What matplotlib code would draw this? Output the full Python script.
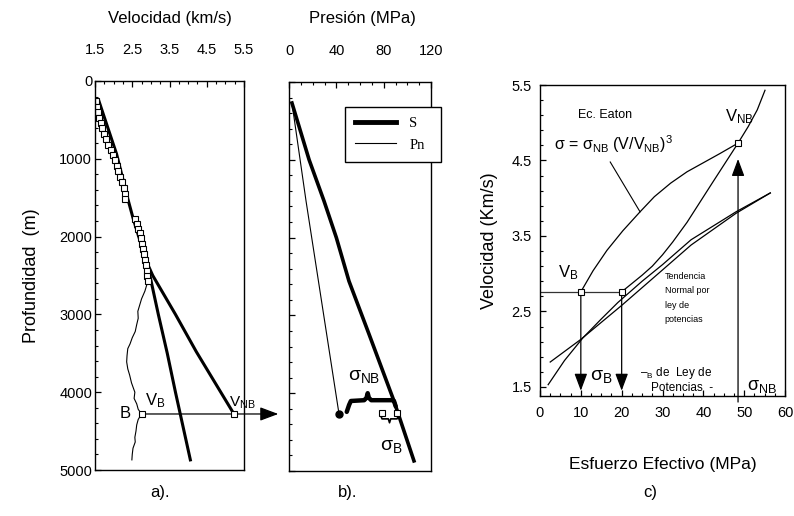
import matplotlib
matplotlib.use('Agg')
import matplotlib.pyplot as plt
from matplotlib.ticker import FixedLocator, AutoMinorLocator, NullFormatter
from matplotlib.lines import Line2D

plt.rcParams['font.family'] = ['Liberation Sans', 'DejaVu Sans']
plt.rcParams['mathtext.fontset'] = 'custom'
plt.rcParams['mathtext.rm'] = 'Liberation Sans'
plt.rcParams['mathtext.it'] = 'Liberation Sans'

# ---------------- Panel a data (depth m, velocity km/s) ----------------
vel_depth = [260, 330, 400, 470, 540, 610, 680, 750, 820, 890, 950, 1020, 1090,
             1160, 1230, 1300, 1370, 1450, 1520, 1780, 1840, 1900, 1960, 2020,
             2090, 2160, 2230, 2300, 2370, 2440, 2510, 2570]
vel_data = [1.52, 1.55, 1.58, 1.62, 1.66, 1.70, 1.75, 1.80, 1.86, 1.93, 1.98, 2.03,
            2.08, 2.12, 2.17, 2.22, 2.27, 2.31, 2.30, 2.58, 2.62, 2.66, 2.70, 2.74,
            2.76, 2.78, 2.81, 2.84, 2.87, 2.89, 2.90, 2.91]
trend_depth = [250, 940, 1460, 1760, 2320, 2500, 3000, 3480, 4280]
trend_vel = [1.60, 2.08, 2.35, 2.52, 2.88, 3.05, 3.66, 4.22, 5.23]
trend2_depth = [2360, 3000, 3500, 4000, 4870]
trend2_vel = [2.91, 3.20, 3.44, 3.66, 4.06]
log_depth = [2550, 2620, 2700, 2800, 2880, 2960, 3050, 3130, 3220, 3300, 3380, 3440,
             3530, 3610, 3700, 3780, 3880, 4000, 4080, 4150, 4220, 4280, 4350, 4420,
             4500, 4580, 4640, 4720, 4800, 4870]
log_vel = [2.92, 2.89, 2.84, 2.75, 2.70, 2.65, 2.66, 2.62, 2.58, 2.50, 2.44, 2.38,
           2.36, 2.35, 2.38, 2.43, 2.48, 2.57, 2.55, 2.62, 2.66, 2.75, 2.66, 2.62,
           2.60, 2.57, 2.58, 2.52, 2.50, 2.49]
depth_B = 4280
v_B_a = 2.75
v_NB_a = 5.23

# ---------------- Panel b data (depth m, pressure MPa) ----------------
S_depth = [270, 1000, 1530, 2000, 2560, 3240, 4100, 4870]
S_press = [2.5, 17.0, 29.6, 40.0, 50.7, 67.6, 88.7, 105.6]
Pn_depth = [270, 1530, 4270]
Pn_press = [2.5, 14.4, 42.3]
sq_press = [78.6, 91.3]
sq_depth = [4254, 4254]

# ---------------- Panel c data (effective stress MPa, velocity km/s) ----------------
eaton_sigma = [10, 13, 16.4, 20.3, 24.5, 28, 32, 36, 40, 44, 48.5]
eaton_vel = [2.76, 3.04, 3.31, 3.57, 3.82, 4.02, 4.20, 4.35, 4.47, 4.59, 4.73]
steep_sigma = [20, 25, 27.5, 30, 32.5, 36, 42.4, 48.5, 51, 53.2, 55.1]
steep_vel = [2.76, 2.98, 3.10, 3.25, 3.42, 3.68, 4.22, 4.73, 4.95, 5.17, 5.43]
norm1_sigma = [2.5, 10, 20, 30, 37, 48, 56.4]
norm1_vel = [1.83, 2.13, 2.58, 3.05, 3.38, 3.80, 4.07]
norm2_sigma = [2, 6, 10.5, 15, 19.1, 25, 30, 37, 48, 56.4]
norm2_vel = [1.53, 1.85, 2.15, 2.40, 2.62, 2.90, 3.12, 3.45, 3.82, 4.07]
sigma_B = [10, 20]
V_B = 2.76
sigma_NB = 48.5
V_NB = 4.73

W, H = 794, 516
fig = plt.figure(figsize=(W / 100, H / 100), dpi=100)


def box(l, t, r, b):
    return [l / W, 1 - b / H, (r - l) / W, (b - t) / H]


axa = fig.add_axes(box(95, 81, 244, 470))
axb = fig.add_axes(box(289, 82, 431, 471))
axc = fig.add_axes(box(540, 85, 785, 396))

for ax in (axa, axb, axc):
    ax.tick_params(which='both', direction='in', labelsize=10.5)
    ax.tick_params(which='major', length=4, width=0.9)
    ax.tick_params(which='minor', length=2.5, width=0.8)
    for s in ax.spines.values():
        s.set_linewidth(1.0)

arrow_style = '-|>,head_length=0.75,head_width=0.28'

# ---------------- Panel a ----------------
axa.plot(trend_vel, trend_depth, color='black', lw=2.2)
axa.plot(trend2_vel, trend2_depth, color='black', lw=2.2)
axa.plot(log_vel, log_depth, color='black', lw=0.8)
axa.plot(vel_data, vel_depth, ls='none', marker='s', ms=4.5, mfc='white',
         mec='black', mew=0.8)
axa.plot([v_B_a, v_NB_a], [depth_B, depth_B], ls='none', marker='s', ms=4.5,
         mfc='white', mec='black', mew=0.8, zorder=5)
axa.annotate('', xy=(1.23, depth_B), xycoords=('axes fraction', 'data'),
             xytext=(v_B_a, depth_B), textcoords='data', annotation_clip=False,
             arrowprops=dict(arrowstyle=arrow_style, color='black', lw=0.9,
                             shrinkA=0, shrinkB=0, mutation_scale=15))
axa.text(2.3, depth_B, 'B', fontsize=12, ha='center', va='center')
axa.text(2.83, 4110, 'V$_\\mathrm{B}$', fontsize=12, ha='left', va='center')
axa.text(5.1, 4130, 'V$_\\mathrm{NB}$', fontsize=11, ha='left', va='center',
         clip_on=False)
axa.set_xlim(1.5, 5.5)
axa.set_ylim(5000, 0)
axa.xaxis.tick_top()
axa.xaxis.set_major_locator(FixedLocator([1.5, 2.5, 3.5, 4.5, 5.5]))
axa.xaxis.set_minor_locator(AutoMinorLocator(4))
axa.yaxis.set_major_locator(FixedLocator([0, 1000, 2000, 3000, 4000, 5000]))
axa.yaxis.set_minor_locator(AutoMinorLocator(5))
axa.tick_params(axis='x', which='major', pad=17)
axa.tick_params(axis='y', which='major', pad=2)
axa.set_ylabel('Profundidad  (m)', fontsize=13, labelpad=14)
fig.text(170 / W, 1 - 18 / H, 'Velocidad (km/s)', fontsize=12, ha='center', va='center')
fig.text(160 / W, 1 - 492 / H, 'a).', fontsize=12, ha='center', va='center')

# ---------------- Panel b ----------------
axb.plot(S_press, S_depth, color='black', lw=2.6)
axb.plot(Pn_press, Pn_depth, color='black', lw=0.8)
axb.plot([Pn_press[-1]], [Pn_depth[-1]], marker='o', ms=5, color='black', ls='none')
axb.plot(sq_press, sq_depth, ls='none', marker='s', ms=4.5, mfc='white',
         mec='black', mew=0.8, zorder=5)
# curly brace sigma_NB (from pore-pressure end to overburden)
p0 = Pn_press[-1]
p1 = S_press[-2]
pm = (p0 + p1) / 2 + 1
brace_x = [p0 + 6.5, p0 + 8.5, p0 + 10, pm - 3, pm - 1, pm, pm + 1, pm + 3, p1 - 1, p1, p1 + 1.5]
brace_y = [4240, 4150, 4100, 4090, 4060, 4000, 4060, 4090, 4090, 4100, 4170]
axb.plot(brace_x, brace_y, color='black', lw=3.2, solid_capstyle='round')
# small brace sigma_B under squares
q0, q1 = sq_press
qm = (q0 + q1) / 2
axb.plot([q0 - 1, q0, qm - 1, qm, qm + 1, q1, q1 + 1.5],
         [4290, 4330, 4330, 4380, 4330, 4330, 4280], color='black', lw=1.2)
axb.text(63.4, 3780, '$\\sigma_{\\mathrm{NB}}$', fontsize=14, ha='center', va='center')
axb.text(86, 4690, '$\\sigma_{\\mathrm{B}}$', fontsize=14, ha='center', va='center')
axb.set_xlim(0, 120)
axb.set_ylim(5000, 0)
axb.xaxis.tick_top()
axb.xaxis.set_major_locator(FixedLocator([0, 40, 80, 120]))
axb.xaxis.set_minor_locator(AutoMinorLocator(4))
axb.yaxis.set_major_locator(FixedLocator([0, 1000, 2000, 3000, 4000, 5000]))
axb.yaxis.set_minor_locator(AutoMinorLocator(5))
axb.yaxis.set_major_formatter(NullFormatter())
axb.tick_params(axis='x', which='major', pad=17)
handles = [Line2D([], [], color='black', lw=3.5), Line2D([], [], color='black', lw=0.8)]
leg = axb.legend(handles, ['S', 'Pn'], loc='upper left',
                 bbox_to_anchor=(0.394, 0.936, 0.676, 0.0), mode='expand',
                 prop={'family': 'Liberation Serif', 'size': 10.5},
                 frameon=True, fancybox=False, edgecolor='black', framealpha=1,
                 handlelength=2.8, handletextpad=0.9, labelspacing=0.55,
                 borderpad=0.7, borderaxespad=0)
leg.get_frame().set_linewidth(1.0)
fig.text(362 / W, 1 - 18 / H, 'Presión (MPa)', fontsize=12, ha='center', va='center')
fig.text(348 / W, 1 - 492 / H, 'b).', fontsize=12, ha='center', va='center')

# ---------------- Panel c ----------------
axc.plot(eaton_sigma, eaton_vel, color='black', lw=0.9)
axc.plot(steep_sigma, steep_vel, color='black', lw=0.9)
axc.plot(norm1_sigma, norm1_vel, color='black', lw=0.9)
axc.plot(norm2_sigma, norm2_vel, color='black', lw=0.9)
axc.plot([0, sigma_B[1]], [V_B, V_B], color='#333333', lw=0.9)
for sb in sigma_B:
    axc.annotate('', xy=(sb, 1.45), xytext=(sb, V_B),
                 arrowprops=dict(arrowstyle=arrow_style, color='black', lw=0.9,
                                 shrinkA=0, shrinkB=0, mutation_scale=14))
axc.annotate('', xy=(sigma_NB, 4.52), xytext=(sigma_NB, 1.3),
             annotation_clip=False,
             arrowprops=dict(arrowstyle=arrow_style, color='black', lw=0.9,
                             shrinkA=0, shrinkB=0, mutation_scale=14))
axc.plot(sigma_B, [V_B, V_B], ls='none', marker='s', ms=5, mfc='white',
         mec='black', mew=0.8, zorder=5)
axc.plot([sigma_NB], [V_NB], ls='none', marker='s', ms=5, mfc='white',
         mec='black', mew=0.8, zorder=5)
axc.plot([17.2, 24.5], [4.48, 3.82], color='black', lw=0.8)
axc.text(15.9, 5.1, 'Ec. Eaton', fontsize=9, ha='center', va='center')
axc.text(3.5, 4.72, 'σ = σ$_{\\mathrm{NB}}$ (V/V$_{\\mathrm{NB}}$)$^{3}$', fontsize=11.5,
         ha='left', va='center')
axc.text(45.3, 5.08, 'V$_{\\mathrm{NB}}$', fontsize=12, ha='left', va='center')
axc.text(4.5, 3.02, 'V$_{\\mathrm{B}}$', fontsize=12, ha='left', va='center')
axc.text(30.5, 3.02, 'Tendencia\nNormal por\nley de\npotencias', fontsize=6.5,
         ha='left', va='top', linespacing=1.75)
axc.text(12.2, 1.64, '$\\sigma_{\\mathrm{B}}$', fontsize=14, ha='left', va='center')
axc.text(24.5, 1.69, '–$_{\\mathrm{B}}$ de  Ley de', fontsize=8.5, ha='left', va='center')
axc.text(27.3, 1.49, 'Potencias  -', fontsize=8.5, ha='left', va='center')
axc.text(50.6, 1.5, '$\\sigma_{\\mathrm{NB}}$', fontsize=13, ha='left', va='center')
axc.set_xlim(0, 60)
axc.set_ylim(1.38, 5.5)
axc.xaxis.set_major_locator(FixedLocator([0, 10, 20, 30, 40, 50, 60]))
axc.xaxis.set_minor_locator(AutoMinorLocator(4))
axc.yaxis.set_major_locator(FixedLocator([1.5, 2.5, 3.5, 4.5, 5.5]))
axc.yaxis.set_minor_locator(AutoMinorLocator(5))
axc.tick_params(axis='x', which='major', pad=7)
axc.tick_params(axis='y', which='major', pad=6)
axc.set_xlabel('Esfuerzo Efectivo (MPa)', fontsize=12.5, labelpad=27)
axc.set_ylabel('Velocidad (Km/s)', fontsize=13, labelpad=10)
fig.text(650 / W, 1 - 493 / H, 'c)', fontsize=12, ha='center', va='center')

fig.savefig('out.png', dpi=100)
